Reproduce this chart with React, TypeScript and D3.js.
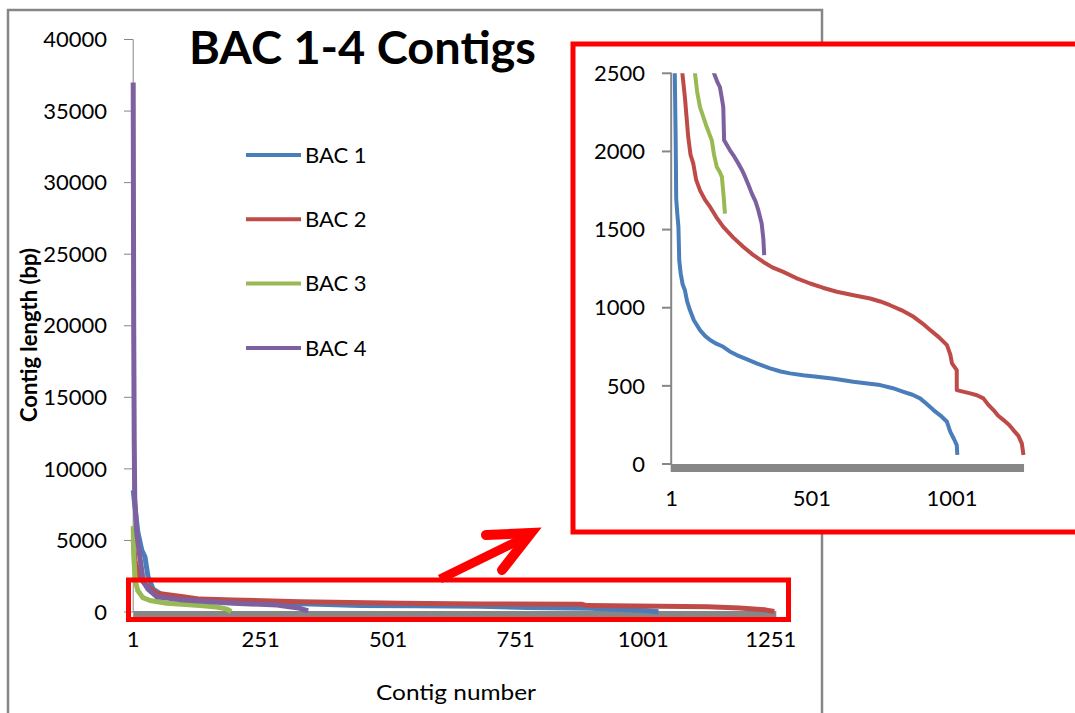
import { useMemo } from "react";
import * as d3 from "d3";

// [contig index, contig length]
const bac1Main: [number, number][] = [
  [1, 8500], [5, 7200], [10, 5600], [18, 4300], [24, 3860], [30, 2470], [40, 1600],
  [60, 1150], [100, 920], [200, 720], [300, 620], [446, 460], [557, 440], [682, 400],
  [773, 310], [897, 260], [969, 150], [1010, 80], [1031, 10],
];
const bac2Main: [number, number][] = [
  [1, 5000], [5, 3500], [15, 2300], [30, 1770], [47, 1306], [99, 1070], [132, 900],
  [197, 840], [328, 720], [525, 620], [682, 560], [880, 540], [890, 450], [1127, 372],
  [1190, 280], [1240, 150], [1258, 30],
];
const bac3Main: [number, number][] = [
  [1, 6000], [2, 4000], [5, 2200], [10, 1500], [20, 1000], [34, 800], [67, 605],
  [132, 450], [165, 350], [185, 200], [193, 20],
];
const bac4Main: [number, number][] = [
  [1, 37000], [2, 20000], [3, 12000], [4, 8000], [8, 5500], [14, 3860], [21, 2100],
  [30, 1600], [47, 1070], [99, 838], [197, 608], [283, 489], [328, 258], [344, 70],
];

// [contig index, contig length] (0-2500 bp)
const bac1Zoom: [number, number][] = [
  [1, 6000], [12, 2500], [15, 2100], [16, 1922], [17, 1700], [21, 1600], [25, 1517],
  [28, 1300], [33, 1220], [40, 1150], [48, 1112], [56, 1040], [66, 985], [80, 920],
  [102, 857], [120, 820], [138, 793], [160, 770], [185, 750], [208, 720], [233, 697],
  [270, 670], [304, 644], [352, 612], [390, 592], [423, 580], [470, 568], [519, 558],
  [580, 545], [649, 526], [700, 515], [745, 505], [790, 485], [828, 462], [860, 443],
  [887, 420], [910, 385], [935, 345], [960, 310], [983, 270], [995, 206], [1008, 160],
  [1018, 121], [1020, 58],
];
const bac2Zoom: [number, number][] = [
  [1, 5000], [39, 2500], [48, 2348], [60, 2092], [68, 1980], [78, 1922], [88, 1820],
  [102, 1751], [120, 1690], [138, 1645], [160, 1580], [185, 1517], [220, 1450],
  [257, 1389], [290, 1340], [328, 1293], [360, 1258], [399, 1229], [445, 1190],
  [495, 1155], [540, 1128], [590, 1102], [650, 1080], [709, 1059], [745, 1040],
  [780, 1016], [820, 985], [864, 942], [895, 900], [923, 857], [955, 810], [983, 761],
  [995, 700], [1001, 644], [1018, 601], [1018, 473], [1066, 452], [1090, 440],
  [1113, 420], [1130, 380], [1149, 345], [1165, 310], [1185, 281], [1205, 250],
  [1220, 217], [1238, 180], [1250, 132], [1256, 58],
];
const bac3Zoom: [number, number][] = [
  [60, 3500], [84, 2500], [92, 2380], [102, 2284], [114, 2220], [126, 2156],
  [144, 2071], [152, 1980], [162, 1900], [172, 1870], [180, 1837], [186, 1720],
  [191, 1602],
];
const bac4Zoom: [number, number][] = [
  [120, 3500], [152, 2500], [165, 2440], [173, 2412], [180, 2340], [185, 2284],
  [188, 2071], [209, 2007], [225, 1965], [239, 1922], [252, 1880], [263, 1837],
  [275, 1785], [287, 1730], [300, 1680], [310, 1624], [322, 1539], [328, 1440],
  [331, 1336],
];

const seriesNames = ["BAC 1", "BAC 2", "BAC 3", "BAC 4"];
const mainYTicks = [0, 5000, 10000, 15000, 20000, 25000, 30000, 35000, 40000];
const mainXTicks = [1, 251, 501, 751, 1001, 1251];
const zoomYTicks = [0, 500, 1000, 1500, 2000, 2500];
const zoomXTicks = [1, 501, 1001];

const COLORS = ["#4a7ebb", "#be4b48", "#98b954", "#7d60a0"];
const AXIS = "#868686";
const FONT = "Lato, 'Open Sans', sans-serif";

export default function App() {
  const mainSeries = [bac1Main, bac2Main, bac3Main, bac4Main];
  const zoomSeries = [bac1Zoom, bac2Zoom, bac3Zoom, bac4Zoom];

  const xMain = useMemo(() => d3.scaleLinear().domain([1, 1251]).range([133.2, 770.7]), []);
  const yMain = useMemo(() => d3.scaleLinear().domain([0, 40000]).range([612, 39.5]), []);
  const xZoom = useMemo(() => d3.scaleLinear().domain([1, 1001]).range([671.7, 952]), []);
  const yZoom = useMemo(() => d3.scaleLinear().domain([0, 2500]).range([464, 73.3]), []);

  const mainLine = d3
    .line<[number, number]>()
    .x((d) => xMain(d[0]))
    .y((d) => yMain(d[1]));
  const zoomLine = d3
    .line<[number, number]>()
    .x((d) => xZoom(d[0]))
    .y((d) => yZoom(d[1]));

  return (
    <svg
      width={1075}
      height={713}
      style={{ position: "absolute", left: 0, top: 0, background: "#fff" }}
      fontFamily={FONT}
    >
      <defs>
        <clipPath id="zoomClip">
          <rect x={671} y={yZoom(2500)} width={370} height={yZoom(0) - yZoom(2500) + 2} />
        </clipPath>
      </defs>

      {/* chart area frame */}
      <rect x={8} y={10} width={814} height={760} fill="#fff" stroke={AXIS} strokeWidth={2.5} />

      {/* title */}
      <text x={189} y={64} fontSize={45} fontWeight="bold" fill="#000" textLength={347} lengthAdjust="spacingAndGlyphs">
        BAC 1-4 Contigs
      </text>

      {/* main y axis */}
      <line x1={xMain(1)} x2={xMain(1)} y1={yMain(40000)} y2={yMain(0)} stroke={AXIS} strokeWidth={1} />
      {mainYTicks.map((t) => (
        <g key={t}>
          <line x1={124} x2={xMain(1)} y1={yMain(t)} y2={yMain(t)} stroke={AXIS} strokeWidth={1} />
          <text x={107} y={yMain(t)} dy="0.35em" textAnchor="end" fontSize={22} fill="#000">
            {t}
          </text>
        </g>
      ))}
      <text
        transform={`translate(37,335) rotate(-90)`}
        textAnchor="middle"
        fontSize={22}
        fontWeight="bold"
        fill="#000"
      >
        Contig length (bp)
      </text>

      {/* main x axis band and labels */}
      <rect x={xMain(1)} y={yMain(0) - 1} width={xMain(1262) - xMain(1)} height={6.5} fill="#878787" />
      {mainXTicks.map((t) => (
        <text key={t} x={xMain(t)} y={647} textAnchor="middle" fontSize={22} fill="#000">
          {t}
        </text>
      ))}
      <text x={456} y={700} textAnchor="middle" fontSize={22} fill="#000" textLength={160} lengthAdjust="spacingAndGlyphs">
        Contig number
      </text>

      {/* main series */}
      {mainSeries.map((s, i) => (
        <path
          key={i}
          d={mainLine(s) || ""}
          fill="none"
          stroke={COLORS[i]}
          strokeWidth={5}
          strokeLinejoin="round"
        />
      ))}

      {/* legend */}
      {seriesNames.map((name, i) => (
        <g key={name}>
          <line x1={246} x2={301} y1={155 + i * 64.3} y2={155 + i * 64.3} stroke={COLORS[i]} strokeWidth={4} />
          <text x={305} y={155 + i * 64.3} dy="0.35em" fontSize={22} fill="#000">
            {name}
          </text>
        </g>
      ))}

      {/* highlight box and arrow */}
      <rect x={128.5} y={580} width={660} height={39.5} fill="none" stroke="#ff0000" strokeWidth={5} />
      <line x1={440} y1={579} x2={526} y2={537} stroke="#ff0000" strokeWidth={9} />
      <polyline
        points="486,535 531,533 502,570"
        fill="none"
        stroke="#ff0000"
        strokeWidth={10}
        strokeLinecap="round"
        strokeLinejoin="miter"
      />

      {/* inset */}
      <rect x={573} y={44} width={520} height={488} fill="#fff" stroke="#ff0000" strokeWidth={5} />
      <line x1={xZoom(1) - 0.5} x2={xZoom(1) - 0.5} y1={yZoom(2500)} y2={yZoom(0)} stroke={AXIS} strokeWidth={2} />
      {zoomYTicks.map((t) => (
        <g key={t}>
          <line x1={662} x2={xZoom(1)} y1={yZoom(t)} y2={yZoom(t)} stroke={AXIS} strokeWidth={2} />
          <text x={645} y={yZoom(t)} dy="0.35em" textAnchor="end" fontSize={22} fill="#000">
            {t}
          </text>
        </g>
      ))}
      <rect x={xZoom(1) - 1} y={yZoom(0)} width={xZoom(1258) - xZoom(1) + 1} height={8} fill="#878787" />
      {zoomXTicks.map((t) => (
        <text key={t} x={xZoom(t)} y={506} textAnchor="middle" fontSize={22} fill="#000">
          {t}
        </text>
      ))}
      <g clipPath="url(#zoomClip)">
        {zoomSeries.map((s, i) => (
          <path
            key={i}
            d={zoomLine(s) || ""}
            fill="none"
            stroke={COLORS[i]}
            strokeWidth={4}
            strokeLinejoin="round"
          />
        ))}
      </g>
    </svg>
  );
}
